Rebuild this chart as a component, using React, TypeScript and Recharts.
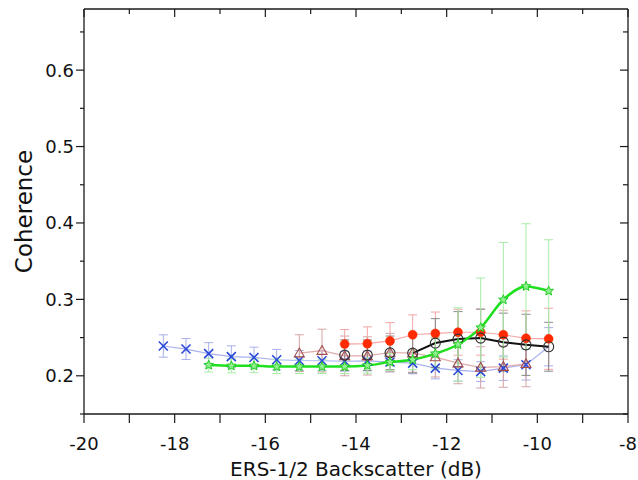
import React from "react";
import { ComposedChart, Line, XAxis, YAxis, ErrorBar } from "recharts";

// ---- data ----
const xTitle = "ERS-1/2 Backscatter (dB)";
const yTitle = "Coherence";
const xTicks = [-20, -19, -18, -17, -16, -15, -14, -13, -12, -11, -10, -9, -8];
const yTicks = [0.15, 0.2, 0.25, 0.3, 0.35, 0.4, 0.45, 0.5, 0.55, 0.6, 0.65];

// blue crosses: -18.25 .. -9.75
const blueX = [-18.25, -17.75, -17.25, -16.75, -16.25, -15.75, -15.25, -14.75, -14.25, -13.75, -13.25, -12.75, -12.25, -11.75, -11.25, -10.75, -10.25, -9.75];
const blueCoh = [0.239, 0.235, 0.229, 0.225, 0.224, 0.221, 0.22, 0.2197, 0.219, 0.2195, 0.218, 0.2166, 0.21, 0.207, 0.2055, 0.21, 0.2144, 0.238];
const blueErr = [0.0146, 0.0137, 0.0144, 0.0142, 0.0135, 0.0135, 0.013, 0.013, 0.013, 0.013, 0.013, 0.014, 0.014, 0.014, 0.013, 0.016, 0.02, 0.025];

// green stars: -17.25 .. -9.75
const greenX = [-17.25, -16.75, -16.25, -15.75, -15.25, -14.75, -14.25, -13.75, -13.25, -12.75, -12.25, -11.75, -11.25, -10.75, -10.25, -9.75];
const greenCoh = [0.214, 0.213, 0.213, 0.212, 0.212, 0.212, 0.212, 0.2135, 0.218, 0.221, 0.229, 0.241, 0.263, 0.2995, 0.317, 0.311];
const greenErr = [0.009, 0.009, 0.009, 0.009, 0.009, 0.009, 0.009, 0.01, 0.011, 0.013, 0.02, 0.048, 0.065, 0.075, 0.082, 0.067];

// red filled markers: -14.25 .. -9.75
const redX = [-14.25, -13.75, -13.25, -12.75, -12.25, -11.75, -11.25, -10.75, -10.25, -9.75];
const redCoh = [0.2415, 0.242, 0.2456, 0.2537, 0.2554, 0.257, 0.257, 0.2537, 0.249, 0.2484];
const redErr = [0.019, 0.022, 0.024, 0.026, 0.028, 0.03, 0.03, 0.032, 0.036, 0.04];

// brown open triangles: -15.25 .. -10.25
const triX = [-15.25, -14.75, -14.25, -13.75, -13.25, -12.75, -12.25, -11.75, -11.25, -10.75, -10.25];
const triCoh = [0.2297, 0.233, 0.226, 0.226, 0.2305, 0.2297, 0.2245, 0.2166, 0.211, 0.212, 0.2157];
const triErr = [0.024, 0.028, 0.026, 0.025, 0.025, 0.025, 0.026, 0.027, 0.027, 0.027, 0.03];

// black open circles: -14.25 .. -9.75 (line drawn from -12.75 on)
const blackX = [-14.25, -13.75, -13.25, -12.75, -12.25, -11.75, -11.25, -10.75, -10.25, -9.75];
const blackCoh = [0.227, 0.227, 0.23, 0.2297, 0.2428, 0.248, 0.2493, 0.244, 0.2405, 0.238];
const blackErr = [0.02, 0.02, 0.022, 0.026, 0.032, 0.036, 0.038, 0.038, 0.04, 0.032];
const blackLineStart = -12.75;

const build = (xs: number[], ys: number[], es: number[]) =>
  xs.map((x, i) => ({ x, y: ys[i], e: es[i] }));

const blueData = build(blueX, blueCoh, blueErr);
const greenData = build(greenX, greenCoh, greenErr);
const redData = build(redX, redCoh, redErr);
const triData = build(triX, triCoh, triErr);
const blackData = build(blackX, blackCoh, blackErr);
const blackLineData = blackData.filter((d) => d.x >= blackLineStart);

const FONT = "'DejaVu Sans', sans-serif";
const AX = "#1a1a1a";

// ---- ticks ----
const isEven = (v: number) => Math.abs(Math.round(v) % 2) === 0;
const isTenth = (v: number) => Math.round(v * 100) % 10 === 0;

const BottomTick = (p: any) => {
  const { x, y, payload } = p;
  const v = payload.value;
  return (
    <g>
      <line x1={x} y1={y} x2={x} y2={y + 9} stroke={AX} strokeWidth={1.2} />
      {isEven(v) && (
        <text x={x} y={y + 36} textAnchor="middle" fontFamily={FONT} fontSize={18} fill="#111">
          {String(v)}
        </text>
      )}
    </g>
  );
};

const TopTick = (p: any) => {
  const { x, y, payload } = p;
  const len = isEven(payload.value) ? 8 : 5;
  return <line x1={x} y1={y} x2={x} y2={y + len} stroke={AX} strokeWidth={1.2} />;
};

const LeftTick = (p: any) => {
  const { x, y, payload } = p;
  const v = payload.value;
  const major = isTenth(v);
  return (
    <g>
      <line x1={x - (major ? 8 : 4)} y1={y} x2={x} y2={y} stroke={AX} strokeWidth={1.2} />
      {major && (
        <text x={x - 10} y={y + 6.5} textAnchor="end" fontFamily={FONT} fontSize={18} fill="#111">
          {v.toFixed(1)}
        </text>
      )}
    </g>
  );
};

const RightTick = (p: any) => {
  const { x, y, payload } = p;
  const len = isTenth(payload.value) ? 8 : 5;
  return <line x1={x - len} y1={y} x2={x} y2={y} stroke={AX} strokeWidth={1.2} />;
};

const XTitle = (p: any) => {
  const vb = p.viewBox || { x: 84, y: 414, width: 544, height: 66 };
  return (
    <text x={vb.x + vb.width / 2} y={vb.y + 62} textAnchor="middle" fontFamily={FONT} fontSize={20} fill="#111">
      {xTitle}
    </text>
  );
};

const YTitle = (p: any) => {
  const vb = p.viewBox || { x: 0, y: 9, width: 84, height: 405 };
  const cx = vb.x + 32;
  const cy = vb.y + vb.height / 2;
  return (
    <text x={cx} y={cy} transform={`rotate(-90, ${cx}, ${cy})`} textAnchor="middle" fontFamily={FONT} fontSize={23} fill="#111">
      {yTitle}
    </text>
  );
};

// ---- markers ----
const ok = (p: any) => p && p.cx != null && p.cy != null && !isNaN(p.cx) && !isNaN(p.cy);

const CrossDot = (p: any) => {
  if (!ok(p) || p.index === blueData.length - 1) return <g key={`bx${p.index}`} />;
  const { cx, cy } = p;
  const s = 4.5;
  return (
    <g key={`bx${p.index}`}>
      <line x1={cx - s} y1={cy - s} x2={cx + s} y2={cy + s} stroke="#2a48d8" strokeWidth={1.6} />
      <line x1={cx - s} y1={cy + s} x2={cx + s} y2={cy - s} stroke="#2a48d8" strokeWidth={1.6} />
    </g>
  );
};

const starPath = (cx: number, cy: number, R: number, r: number) => {
  let d = "";
  for (let i = 0; i < 10; i++) {
    const rad = i % 2 === 0 ? R : r;
    const a = -Math.PI / 2 + (i * Math.PI) / 5;
    d += (i === 0 ? "M" : "L") + (cx + rad * Math.cos(a)).toFixed(2) + "," + (cy + rad * Math.sin(a)).toFixed(2);
  }
  return d + "Z";
};

const StarDot = (p: any) => {
  if (!ok(p)) return <g key={`gs${p.index}`} />;
  return <path key={`gs${p.index}`} d={starPath(p.cx, p.cy, 5, 2.2)} fill="#8ef08e" stroke="#22cc22" strokeWidth={1} />;
};

const RedDot = (p: any) => {
  if (!ok(p)) return <g key={`rd${p.index}`} />;
  return <circle key={`rd${p.index}`} cx={p.cx} cy={p.cy} r={4.5} fill="#ff2a00" stroke="#ff2a00" strokeWidth={0.5} />;
};

const TriDot = (p: any) => {
  if (!ok(p)) return <g key={`tr${p.index}`} />;
  const { cx, cy } = p;
  const s = 5;
  return (
    <path
      key={`tr${p.index}`}
      d={`M${cx},${cy - s}L${cx + s},${cy + s * 0.75}L${cx - s},${cy + s * 0.75}Z`}
      fill="none"
      stroke="#a24c4c"
      strokeWidth={1.1}
    />
  );
};

const CircleDot = (p: any) => {
  if (!ok(p)) return <g key={`bc${p.index}`} />;
  return <circle key={`bc${p.index}`} cx={p.cx} cy={p.cy} r={5} fill="none" stroke="#333" strokeWidth={1.1} />;
};

export default function App() {
  return (
    <div style={{ position: "absolute", left: 0, top: 0, width: 638, height: 480, background: "#fff" }}>
      <ComposedChart width={638} height={480} margin={{ top: 8, right: 9, bottom: 0, left: 0 }}>
        <XAxis
          xAxisId="b"
          dataKey="x"
          type="number"
          domain={[-20, -8]}
          ticks={xTicks}
          interval={0}
          allowDataOverflow
          height={66}
          tickSize={0}
          tickMargin={0}
          tickLine={false}
          axisLine={{ stroke: AX, strokeWidth: 1.3 }}
          tick={BottomTick}
          label={XTitle}
        />
        <XAxis
          xAxisId="t"
          dataKey="x"
          orientation="top"
          type="number"
          domain={[-20, -8]}
          ticks={xTicks}
          interval={0}
          allowDataOverflow
          height={1}
          tickSize={0}
          tickMargin={0}
          tickLine={false}
          axisLine={{ stroke: AX, strokeWidth: 1.3 }}
          tick={TopTick}
        />
        <YAxis
          yAxisId="l"
          type="number"
          domain={[0.15, 0.68]}
          ticks={yTicks}
          interval={0}
          allowDataOverflow
          width={84}
          tickSize={0}
          tickMargin={0}
          tickLine={false}
          axisLine={{ stroke: AX, strokeWidth: 1.3 }}
          tick={LeftTick}
          label={YTitle}
        />
        <YAxis
          yAxisId="r"
          orientation="right"
          type="number"
          domain={[0.15, 0.68]}
          ticks={yTicks}
          interval={0}
          allowDataOverflow
          width={1}
          tickSize={0}
          tickMargin={0}
          tickLine={false}
          axisLine={{ stroke: AX, strokeWidth: 1.3 }}
          tick={RightTick}
        />

        {/* invisible series bound to the top/right frame axes */}
        <Line
          xAxisId="t"
          yAxisId="r"
          data={blueData}
          dataKey="y"
          stroke="none"
          dot={false}
          activeDot={false}
          legendType="none"
          isAnimationActive={false}
        />

        <Line
          xAxisId="b"
          yAxisId="l"
          data={blueData}
          dataKey="y"
          stroke="#aab2f0"
          strokeWidth={1.2}
          dot={CrossDot}
          activeDot={false}
          isAnimationActive={false}
        >
          <ErrorBar dataKey="e" width={4.5} stroke="#a7afec" strokeWidth={1} direction="y" />
        </Line>
        <Line
          xAxisId="b"
          yAxisId="l"
          data={triData}
          dataKey="y"
          stroke="#dfaaaa"
          strokeWidth={1.2}
          dot={TriDot}
          activeDot={false}
          isAnimationActive={false}
        >
          <ErrorBar dataKey="e" width={4.5} stroke="#d4a4a4" strokeWidth={1} direction="y" />
        </Line>
        <Line
          xAxisId="b"
          yAxisId="l"
          data={redData}
          dataKey="y"
          stroke="#f6a6a6"
          strokeWidth={1.2}
          dot={RedDot}
          activeDot={false}
          isAnimationActive={false}
        >
          <ErrorBar dataKey="e" width={4.5} stroke="#f2a4a4" strokeWidth={1} direction="y" />
        </Line>
        <Line
          xAxisId="b"
          yAxisId="l"
          data={blackData}
          dataKey="y"
          stroke="none"
          dot={CircleDot}
          activeDot={false}
          isAnimationActive={false}
        >
          <ErrorBar dataKey="e" width={4.5} stroke="#8a8a8a" strokeWidth={1} direction="y" />
        </Line>
        <Line
          xAxisId="b"
          yAxisId="l"
          data={blackLineData}
          dataKey="y"
          stroke="#111"
          strokeWidth={2}
          dot={false}
          activeDot={false}
          isAnimationActive={false}
        />
        <Line
          xAxisId="b"
          yAxisId="l"
          data={greenData}
          dataKey="y"
          type="monotone"
          stroke="#1fe01f"
          strokeWidth={2.5}
          dot={StarDot}
          activeDot={false}
          isAnimationActive={false}
        >
          <ErrorBar dataKey="e" width={4.5} stroke="#a6eca6" strokeWidth={1} direction="y" />
        </Line>
      </ComposedChart>
    </div>
  );
}
